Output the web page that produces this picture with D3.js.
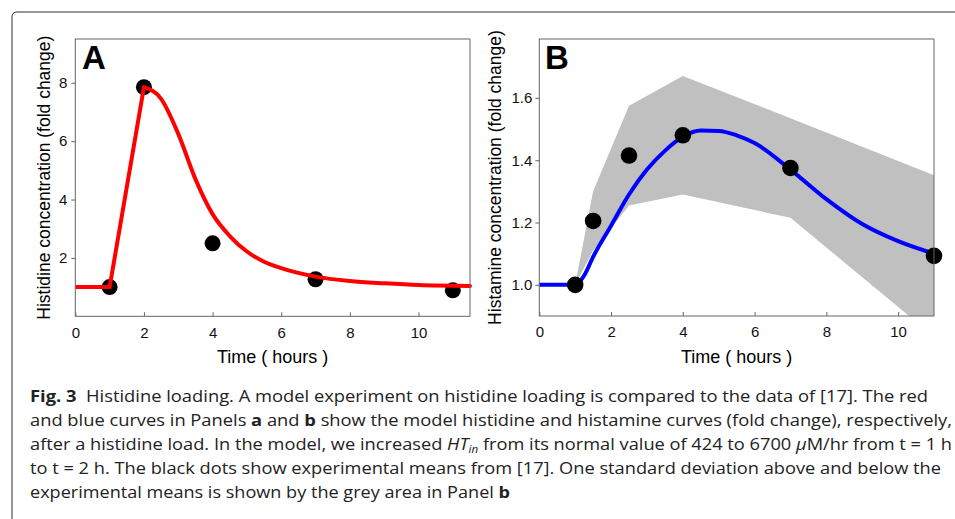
<!DOCTYPE html>
<html>
<head>
<meta charset="utf-8">
<script src="https://cdn.jsdelivr.net/npm/d3@7"></script>
<style>
  body { margin: 0; background: #fff; }
  svg { display: block; }
</style>
</head>
<body>
<div id="canvas"></div>
<script>
// Panel A: histidine, experimental means and model curve
const timeA = [1, 2, 4, 7, 11];
const histidineMeans = [1.0, 7.85, 2.5, 1.27, 0.89];
const modelTimeRise = [0, 1, 2];
const modelHistidineRise = [1.0, 1.0, 7.85];
const modelTimeDecay = [2, 2.5, 3, 3.5, 4, 4.5, 5, 5.5, 6, 7, 8, 9, 10, 11.5];
const modelHistidineDecay = [7.85, 7.45, 6.25, 4.7, 3.5, 2.75, 2.22, 1.87, 1.65, 1.36, 1.21, 1.13, 1.07, 1.04];

// Panel B: histamine, experimental means +- one SD and model curve
const timeB = [1, 1.5, 2.5, 4, 7, 11];
const histamineMeans = [1.0, 1.205, 1.415, 1.48, 1.375, 1.093];
const histamineSD = [0, 0.095, 0.16, 0.19, 0.16, 0.259];
const modelTimeB = [0, 1, 1.25, 1.5, 2, 2.5, 3, 3.5, 4, 4.5, 5, 5.5, 6, 7, 8, 9, 10, 11];
const modelHistamine = [1.0, 1.0, 1.03, 1.09, 1.19, 1.29, 1.37, 1.43, 1.475, 1.495, 1.494, 1.48, 1.455, 1.37, 1.275, 1.195, 1.14, 1.10];

const xTicks = [0, 2, 4, 6, 8, 10];
const yTicksA = [2, 4, 6, 8];
const yTicksB = [1.0, 1.2, 1.4, 1.6];

const width = 955;
const height = 519;
const axisFont = "'Liberation Sans', Arial, sans-serif";

const svg = d3.select("#canvas").append("svg")
    .attr("width", width)
    .attr("height", height);

// figure border (top and left edge with a rounded corner)
svg.append("path")
    .attr("d", "M12,519 V17 Q12,12 17,12 H955")
    .attr("fill", "none")
    .attr("stroke", "#333")
    .attr("stroke-width", 1);

function drawPanel(p) {
    const x = d3.scaleLinear().domain(p.xDomain).range([p.left, p.right]);
    const y = d3.scaleLinear().domain(p.yDomain).range([p.bottom, p.top]);
    const g = svg.append("g");

    const clipId = "clip" + p.letter;
    svg.append("clipPath").attr("id", clipId)
        .append("rect")
        .attr("x", p.left).attr("y", p.top)
        .attr("width", p.right - p.left).attr("height", p.bottom - p.top);

    const xAxis = g.append("g")
        .attr("transform", `translate(0,${p.bottom})`)
        .call(d3.axisBottom(x).tickValues(xTicks).tickSizeInner(-4).tickSizeOuter(0).tickPadding(10.8));
    const yAxis = g.append("g")
        .attr("transform", `translate(${p.left},0)`)
        .call(d3.axisLeft(y).tickValues(p.yTicks).tickSizeInner(4).tickSizeOuter(0)
            .tickPadding(p.yPad).tickFormat(p.yFormat));
    [xAxis, yAxis].forEach(a => {
        a.select(".domain").remove();
        a.selectAll("line").attr("stroke", "#666");
        a.selectAll("text").attr("font-family", axisFont).attr("font-size", 15).attr("fill", "#111");
    });

    p.draw(g, x, y, clipId);

    g.append("rect")
        .attr("x", p.left).attr("y", p.top)
        .attr("width", p.right - p.left).attr("height", p.bottom - p.top)
        .attr("fill", "none").attr("stroke", "#666").attr("stroke-width", 1);

    g.append("text")
        .attr("x", p.letterX).attr("y", 69)
        .attr("font-family", axisFont).attr("font-weight", "bold")
        .attr("font-size", 33).attr("fill", "#000")
        .text(p.letter);

    g.append("text")
        .attr("x", (p.left + p.right) / 2).attr("y", 363)
        .attr("text-anchor", "middle")
        .attr("font-family", axisFont).attr("font-size", 18).attr("fill", "#000")
        .text("Time ( hours )");

    g.append("text")
        .attr("transform", `translate(${p.yTitleX},${(p.top + p.bottom) / 2}) rotate(-90)`)
        .attr("text-anchor", "middle")
        .attr("font-family", axisFont).attr("font-size", 17.5).attr("fill", "#000")
        .text(p.yTitle);
}

drawPanel({
    letter: "A", letterX: 82,
    left: 75.3, right: 470, top: 39, bottom: 316.3,
    xDomain: [0, 11.5], yDomain: [0, 9.5],
    yTicks: yTicksA, yFormat: d3.format("d"), yPad: 4,
    yTitle: "Histidine concentration (fold change)", yTitleX: 49.5,
    draw: (g, x, y) => {
        g.selectAll("circle.dot")
            .data(d3.zip(timeA, histidineMeans))
            .enter().append("circle")
            .attr("class", "dot")
            .attr("cx", d => x(d[0])).attr("cy", d => y(d[1]))
            .attr("r", 8).attr("fill", "#000");
        // red model curve lies over the dots
        const line = d3.line().x(d => x(d[0])).y(d => y(d[1]));
        g.append("path")
            .datum(d3.zip(modelTimeRise, modelHistidineRise))
            .attr("d", line.curve(d3.curveLinear))
            .attr("fill", "none").attr("stroke", "#f00").attr("stroke-width", 4)
            .attr("stroke-linejoin", "round");
        g.append("path")
            .datum(d3.zip(modelTimeDecay, modelHistidineDecay))
            .attr("d", line.curve(d3.curveMonotoneX))
            .attr("fill", "none").attr("stroke", "#f00").attr("stroke-width", 4)
            .attr("stroke-linecap", "round");
    }
});

drawPanel({
    letter: "B", letterX: 545,
    left: 539.3, right: 934, top: 39, bottom: 316,
    xDomain: [0, 11], yDomain: [0.9, 1.789],
    yTicks: yTicksB, yFormat: d3.format(".1f"), yPad: 3,
    yTitle: "Histamine concentration (fold change)", yTitleX: 501,
    draw: (g, x, y, clipId) => {
        const band = d3.zip(timeB, histamineMeans, histamineSD);
        g.append("path")
            .datum(band)
            .attr("clip-path", `url(#${clipId})`)
            .attr("d", d3.area().x(d => x(d[0])).y0(d => y(d[1] - d[2])).y1(d => y(d[1] + d[2])))
            .attr("fill", "#c0c0c0");
        g.append("path")
            .datum(d3.zip(modelTimeB, modelHistamine))
            .attr("d", d3.line().x(d => x(d[0])).y(d => y(d[1])).curve(d3.curveMonotoneX))
            .attr("fill", "none").attr("stroke", "#00f").attr("stroke-width", 4);
        g.selectAll("circle.dot")
            .data(d3.zip(timeB, histamineMeans))
            .enter().append("circle")
            .attr("class", "dot")
            .attr("cx", d => x(d[0])).attr("cy", d => y(d[1]))
            .attr("r", 8.3).attr("fill", "#000");
    }
});

// caption
const captionFont = "'Open Sans', 'Noto Sans', sans-serif";
const captionLines = [
    { y: 402, len: 898, parts: [["Fig. 3", "b"], ["  Histidine loading. A model experiment on histidine loading is compared to the data of [17]. The red"]] },
    { y: 426, len: 922, parts: [["and blue curves in Panels "], ["a", "b"], [" and "], ["b", "b"], [" show the model histidine and histamine curves (fold change), respectively,"]] },
    { y: 450, len: 922, parts: [["after a histidine load. In the model, we increased "], ["HT", "i"], ["in", "sub"], [" from its normal value of 424 to 6700 "], ["\u03bc", "i"], ["M/hr from t = 1 h"]] },
    { y: 474, len: 911, parts: [["to t = 2 h. The black dots show experimental means from [17]. One standard deviation above and below the"]] },
    { y: 498, len: 480, parts: [["experimental means is shown by the grey area in Panel "], ["b", "b"]] }
];

captionLines.forEach(l => {
    const t = svg.append("text")
        .attr("x", 30).attr("y", l.y)
        .attr("font-family", captionFont).attr("font-size", 16.5).attr("fill", "#222")
        .attr("textLength", l.len).attr("lengthAdjust", "spacingAndGlyphs")
        .attr("xml:space", "preserve").style("white-space", "pre");
    let shifted = false;
    l.parts.forEach(([txt, style]) => {
        const s = t.append("tspan").text(txt);
        if (style === "b") s.attr("font-weight", "bold");
        if (style === "i") s.attr("font-style", "italic");
        if (style === "sub") {
            s.attr("font-style", "italic").attr("font-size", 10.5).attr("dy", 2.5);
            shifted = true;
        } else if (shifted) {
            s.attr("dy", -2.5);
            shifted = false;
        }
    });
});
</script>
</body>
</html>
